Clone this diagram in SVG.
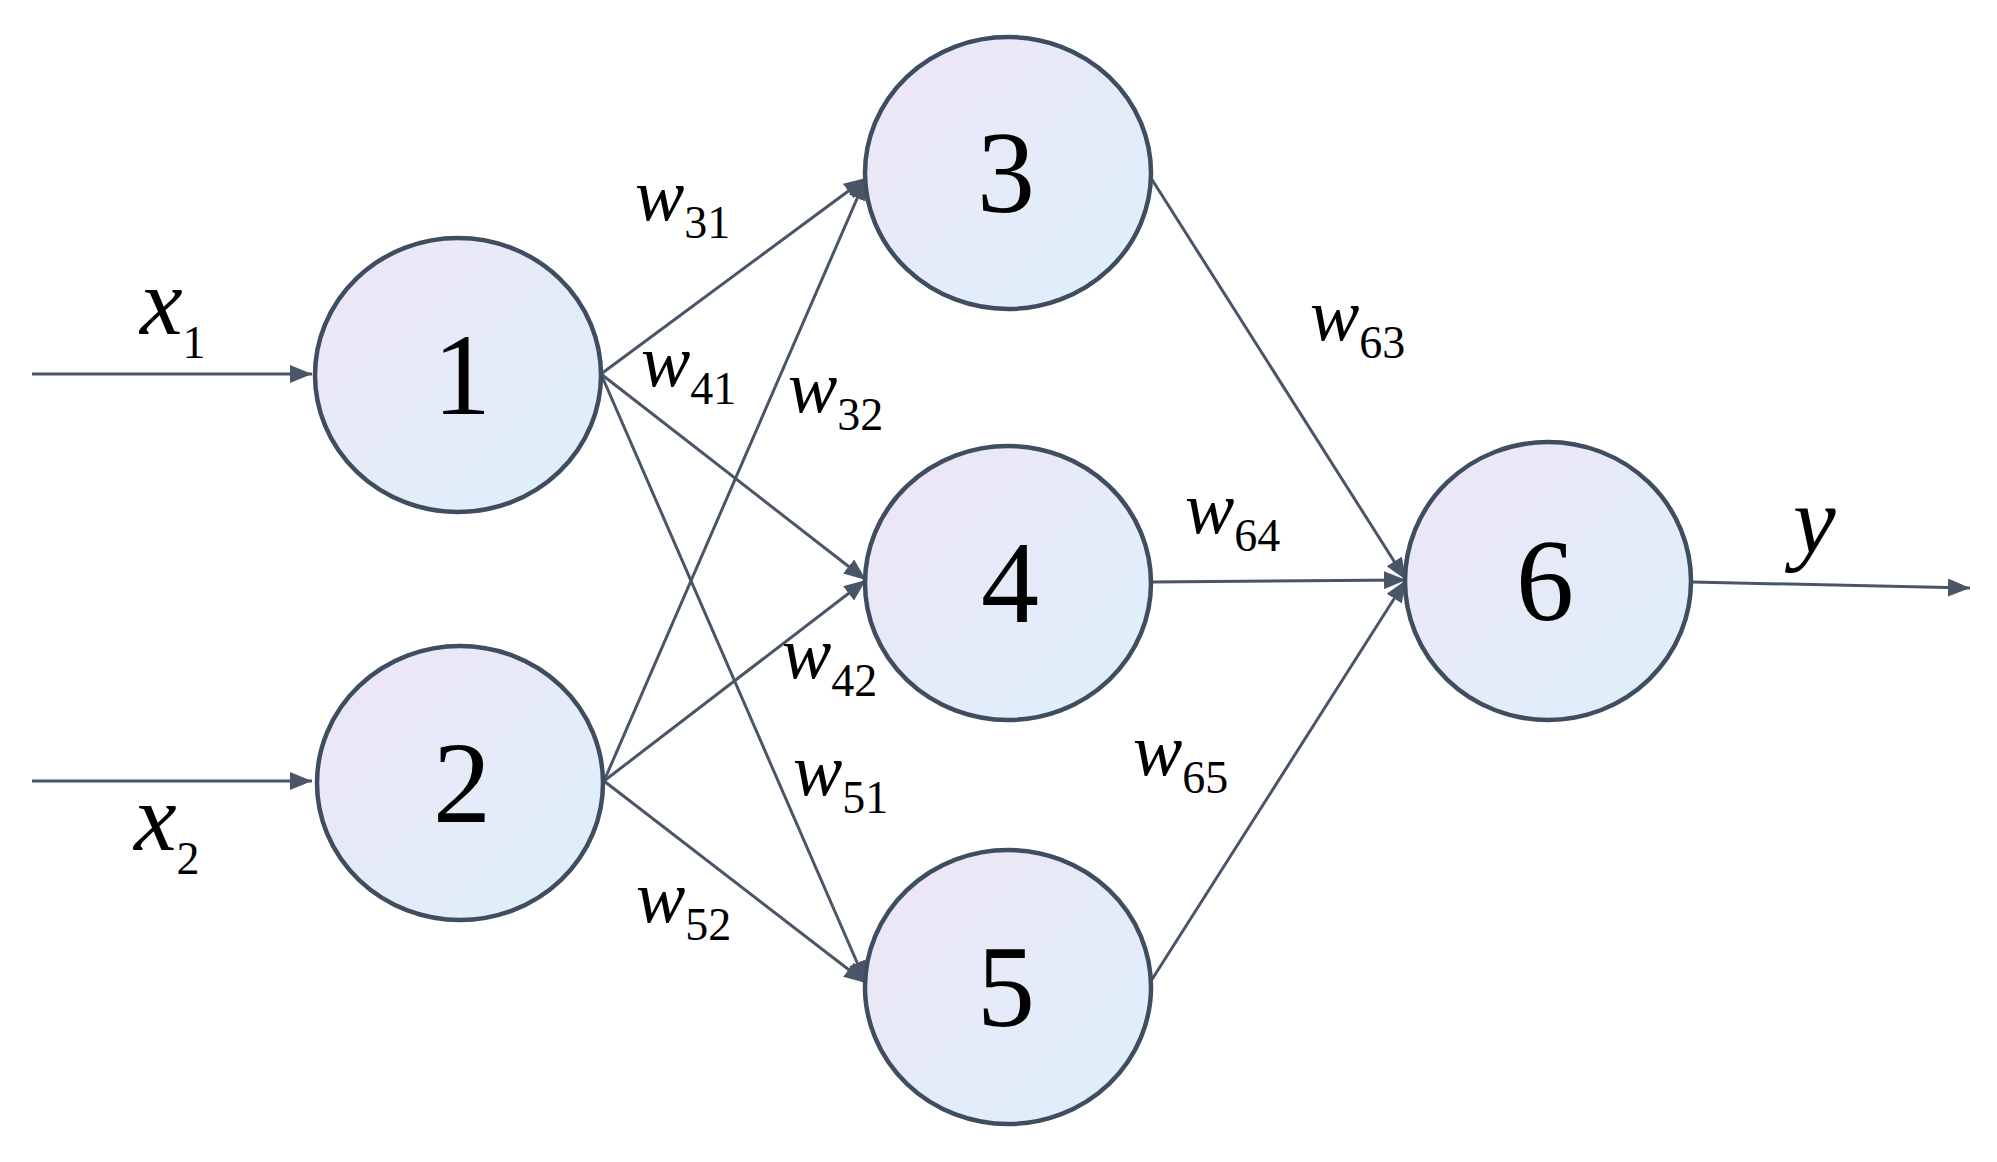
<svg xmlns="http://www.w3.org/2000/svg" width="1997" height="1162" viewBox="0 0 1997 1162">
<style>
.n{stroke:#3f4d60;stroke-width:4.5;fill:url(#g)}
.d{font-family:"Liberation Serif","Times New Roman",serif;font-size:116px;fill:#000;text-anchor:middle}
.c line{stroke:#4a5668;stroke-width:3;marker-end:url(#a)}
.w{font-family:"Liberation Serif","Times New Roman",serif;font-style:italic;font-size:74px;fill:#000}
.s{font-style:normal;font-size:46px}
.x{font-size:96px}
</style>
<defs>
<linearGradient id="g" x1="0" y1="0" x2="1" y2="1"><stop offset="0" stop-color="#eee5f6"/><stop offset="1" stop-color="#ddf0fb"/></linearGradient>
<marker id="a" viewBox="0 0 10 10" refX="10" refY="5" markerWidth="22" markerHeight="18" orient="auto" markerUnits="userSpaceOnUse" preserveAspectRatio="none"><path d="M0,0L10,5L0,10z" fill="#4a5668"/></marker>
</defs>
<g class="c" id="connectors">
<line x1="32" y1="374" x2="312" y2="374"/>
<line x1="32" y1="781" x2="312" y2="781"/>
<line x1="601" y1="374" x2="866" y2="178"/>
<line x1="601" y1="374" x2="866" y2="580"/>
<line x1="601" y1="374" x2="866" y2="983"/>
<line x1="604" y1="781" x2="866" y2="178"/>
<line x1="604" y1="781" x2="866" y2="580"/>
<line x1="604" y1="781" x2="866" y2="983"/>
<line x1="1151" y1="178" x2="1406" y2="580"/>
<line x1="1151" y1="582" x2="1406" y2="580"/>
<line x1="1151" y1="981" x2="1406" y2="580"/>
<line x1="1692" y1="582" x2="1970" y2="588"/>
</g>
<g id="n1"><ellipse class="n" cx="458" cy="375" rx="143" ry="137"/><text class="d" x="462" y="414">1</text></g>
<g id="n2"><ellipse class="n" cx="460" cy="783" rx="143" ry="137"/><text class="d" x="462" y="822">2</text></g>
<g id="n3"><ellipse class="n" cx="1008" cy="173" rx="143" ry="136"/><text class="d" x="1006" y="212">3</text></g>
<g id="n4"><ellipse class="n" cx="1008" cy="583" rx="143" ry="137"/><text class="d" x="1010" y="622">4</text></g>
<g id="n5"><ellipse class="n" cx="1008" cy="987" rx="143" ry="137"/><text class="d" x="1006" y="1026">5</text></g>
<g id="n6"><ellipse class="n" cx="1548" cy="581" rx="143" ry="139"/><text class="d" x="1545" y="620">6</text></g>
<g id="labels">
<text class="w x" x="140" y="334">x<tspan class="s" dy="24" font-size="56">1</tspan></text>
<text class="w x" x="134" y="850">x<tspan class="s" dy="24" font-size="56">2</tspan></text>
<text class="w x" x="1793" y="553">y</text>
<text class="w" x="635" y="220">w<tspan class="s" dy="18">31</tspan></text>
<text class="w" x="641" y="386">w<tspan class="s" dy="18">41</tspan></text>
<text class="w" x="788" y="412">w<tspan class="s" dy="18">32</tspan></text>
<text class="w" x="782" y="678">w<tspan class="s" dy="18">42</tspan></text>
<text class="w" x="793" y="795">w<tspan class="s" dy="18">51</tspan></text>
<text class="w" x="636" y="922">w<tspan class="s" dy="18">52</tspan></text>
<text class="w" x="1310" y="340">w<tspan class="s" dy="18">63</tspan></text>
<text class="w" x="1185" y="533">w<tspan class="s" dy="18">64</tspan></text>
<text class="w" x="1133" y="775">w<tspan class="s" dy="18">65</tspan></text>
</g>
</svg>
